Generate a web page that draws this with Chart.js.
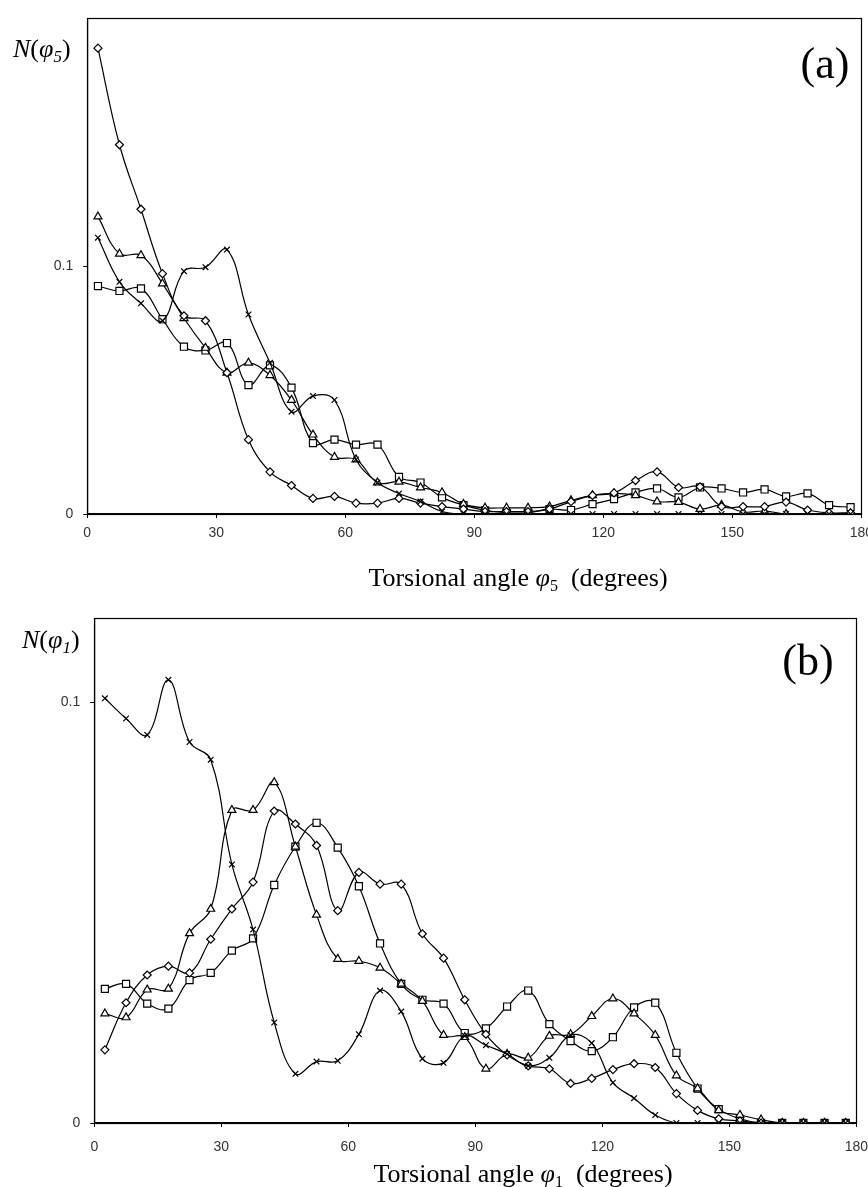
<!DOCTYPE html>
<html><head><meta charset="utf-8">
<script src="https://cdn.jsdelivr.net/npm/chart.js@4/dist/chart.umd.min.js"></script>
<style>
html,body{margin:0;padding:0;background:#fff;overflow:hidden;width:868px;height:1187px;position:relative}
#ca{position:absolute;left:0;top:0}
#cb{position:absolute;left:0;top:600px}
</style></head><body>
<canvas id="ca" width="880" height="600" style="width:880px;height:600px"></canvas>
<canvas id="cb" width="880" height="587" style="width:880px;height:587px"></canvas>
<script>
// ---- data ----
const angles = [2.5,7.5,12.5,17.5,22.5,27.5,32.5,37.5,42.5,47.5,52.5,57.5,62.5,67.5,72.5,77.5,82.5,87.5,92.5,97.5,102.5,107.5,112.5,117.5,122.5,127.5,132.5,137.5,142.5,147.5,152.5,157.5,162.5,167.5,172.5,177.5];
const xTicks = [0,30,60,90,120,150,180];
const yTicks = [0,0.1];

// panel (a)  N(phi5)
const aDiamond  = [0.188,0.149,0.123,0.097,0.080,0.078,0.057,0.030,0.017,0.0115,0.0063,0.0071,0.0044,0.0044,0.0063,0.0044,0.003,0.002,0.001,0.001,0.001,0.002,0.005,0.0075,0.0085,0.0135,0.017,0.0107,0.011,0.003,0.003,0.003,0.0048,0.0016,0.0005,0.0005];
const aTriangle = [0.12,0.105,0.1044,0.093,0.079,0.067,0.057,0.061,0.056,0.046,0.032,0.023,0.022,0.0127,0.013,0.0107,0.0087,0.004,0.0025,0.0025,0.0025,0.003,0.0055,0.0075,0.0083,0.0075,0.005,0.0048,0.002,0.0036,0.0008,0.0012,0,0,0,0];
const aSquare   = [0.092,0.090,0.091,0.0786,0.0675,0.066,0.069,0.052,0.060,0.051,0.0286,0.030,0.028,0.028,0.015,0.0127,0.0067,0.0036,0.0015,0.0005,0.0005,0.002,0.0016,0.004,0.006,0.0087,0.0103,0.0067,0.0107,0.0103,0.0087,0.0099,0.0071,0.0083,0.0036,0.0028];
const aCross    = [0.1115,0.0937,0.085,0.078,0.098,0.0996,0.1067,0.0805,0.061,0.0413,0.0476,0.046,0.022,0.0127,0.0083,0.005,0.001,0,0,0,0,0,0,0,0,0,0,0,0,0,0,0,0,0,0,0];

// panel (b)  N(phi1)
const bDiamond  = [0.0174,0.0286,0.0352,0.0373,0.0357,0.0437,0.0509,0.0573,0.0742,0.0711,0.066,0.0505,0.0596,0.0568,0.0568,0.045,0.0392,0.0293,0.0211,0.0162,0.0136,0.0129,0.0094,0.0106,0.0127,0.0141,0.0132,0.007,0.003,0.001,0.0005,0,0,0,0,0];
const bTriangle = [0.026,0.0251,0.0317,0.0319,0.0451,0.0509,0.0744,0.0744,0.081,0.0657,0.0495,0.039,0.0385,0.0369,0.0331,0.029,0.0209,0.0204,0.0129,0.0164,0.0155,0.0207,0.0211,0.0254,0.0296,0.026,0.0209,0.0113,0.0082,0.003,0.0019,0.0008,0,0,0,0];
const bSquare   = [0.0319,0.0331,0.0284,0.0272,0.034,0.0357,0.041,0.0439,0.0566,0.0657,0.0714,0.0655,0.0563,0.0427,0.0331,0.0293,0.0284,0.0214,0.0225,0.0277,0.0315,0.0235,0.0195,0.0171,0.0204,0.0275,0.0286,0.0167,0.0082,0.0033,0.001,0,0,0,0,0];
const bCross    = [0.101,0.0962,0.0923,0.1054,0.0906,0.0864,0.0615,0.046,0.0239,0.0117,0.0146,0.0148,0.0211,0.0315,0.0265,0.0153,0.0143,0.0207,0.0185,0.0164,0.0136,0.0155,0.0209,0.019,0.0096,0.0059,0.0019,0,0,0,0,0,0,0,0,0];

const panelA = {tag:'(a)', sub:'5', yMax:0.2};
const panelB = {tag:'(b)', sub:'1', yMax:0.12};
const xTitleWords = ['Torsional angle ', 'φ', '  (degrees)'];

// ---- drawing helpers ----
const SERIF = '"Liberation Serif","Times New Roman",serif';
const SANS = '"Liberation Sans",Arial,sans-serif';
function drawRich(ctx, parts, x, y, align){
  let w = 0;
  for (const p of parts){ ctx.font = p.font; w += ctx.measureText(p.t).width; }
  let cx = align==='center' ? x - w/2 : (align==='right' ? x - w : x);
  ctx.textAlign='left'; ctx.textBaseline='alphabetic'; ctx.fillStyle='#000';
  for (const p of parts){ ctx.font = p.font; ctx.fillText(p.t, cx, y + (p.dy||0)); cx += ctx.measureText(p.t).width; }
}
const decor = {
  id:'decor',
  beforeDatasetsDraw(chart){
    const ctx = chart.ctx, a = chart.chartArea;
    ctx.save(); ctx.strokeStyle='#000'; ctx.lineWidth=1.2;
    ctx.strokeRect(Math.round(a.left)+0.5, Math.round(a.top)+0.5, Math.round(a.right-a.left), Math.round(a.bottom-a.top));
    ctx.restore();
  },
  afterDraw(chart, args, opts){
    const ctx = chart.ctx; ctx.save();
    for (const lab of opts.labels) drawRich(ctx, lab.parts, lab.x, lab.y, lab.align);
    ctx.restore();
  }
};

function makeDatasets(d, t, s, c){
  const mk = (arr, style, r) => ({
    data: angles.map((x,i)=>({x:x, y:arr[i]})),
    borderColor:'#000', borderWidth:1.2, tension:0.4, fill:false,
    pointStyle:style, pointRadius:r, pointBorderColor:'#000', pointBackgroundColor:'#fff', pointBorderWidth:1.2
  });
  return [mk(c,'crossRot',4), mk(d,'rectRot',4), mk(t,'triangle',4.6), mk(s,'rect',5)];
}

function makeChart(id, panel, sets, geo){
  const sub = panel.sub;
  const labels = [
    {parts:[{t:'N',font:'italic 26px '+SERIF},{t:'(',font:'26px '+SERIF},{t:'φ',font:'italic 26px '+SERIF},{t:sub,font:'italic 17px '+SERIF,dy:5},{t:')',font:'26px '+SERIF}], x:geo.nx, y:geo.ny, align:'left'},
    {parts:[{t:panel.tag,font:'44px '+SERIF}], x:geo.tx, y:geo.ty, align:'center'},
    {parts:[{t:xTitleWords[0],font:'26px '+SERIF},{t:xTitleWords[1],font:'italic 26px '+SERIF},{t:sub,font:'16px '+SERIF,dy:5},{t:xTitleWords[2],font:'26px '+SERIF}], x:geo.xx, y:geo.xy, align:'center'}
  ];
  return new Chart(document.getElementById(id), {
    type:'line',
    data:{datasets:sets},
    plugins:[decor],
    options:{
      responsive:false, animation:false, devicePixelRatio:1,
      layout:{padding:{left:0, top:geo.top, right:geo.right, bottom:0}},
      plugins:{legend:{display:false}, tooltip:{enabled:false}, decor:{labels:labels}},
      scales:{
        x:{type:'linear', min:0, max:180,
           afterBuildTicks:s=>{ s.ticks = xTicks.map(v=>({value:v})); },
           ticks:{font:{family:SANS,size:14}, color:'#333', padding:geo.xpad, maxRotation:0, autoSkip:false, callback:v=>String(v)},
           grid:{display:true, drawOnChartArea:false, tickLength:4, color:'#000'},
           border:{display:true, color:'#000', width:1.2},
           afterFit:s=>{ s.height = geo.xh; }},
        y:{type:'linear', min:0, max:panel.yMax,
           afterBuildTicks:s=>{ s.ticks = yTicks.map(v=>({value:v})); },
           ticks:{font:{family:SANS,size:14}, color:'#333', padding:10, callback:v=>(v===0?'0':String(v))},
           grid:{display:true, drawOnChartArea:false, tickLength:4, color:'#000'},
           border:{display:true, color:'#000', width:1.2},
           afterFit:s=>{ s.width = geo.yw; }}
      }
    }
  });
}

makeChart('ca', panelA, makeDatasets(aDiamond,aTriangle,aSquare,aCross),
  {top:13, right:16.3, xh:86, yw:87.2, xpad:7, nx:13, ny:57, tx:825, ty:78, xx:518, xy:586});
makeChart('cb', panelB, makeDatasets(bDiamond,bTriangle,bSquare,bCross),
  {top:11, right:18.4, xh:64, yw:94.3, xpad:12, nx:22, ny:48, tx:808, ty:75, xx:523, xy:582});
</script>
</body></html>
